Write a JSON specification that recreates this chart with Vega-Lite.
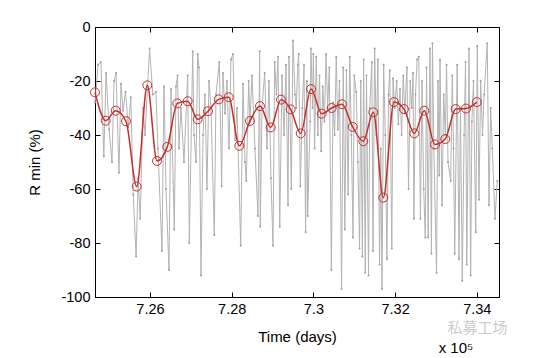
{
  "$schema": "https://vega.github.io/schema/vega-lite/v6.json",
  "width": 404,
  "height": 270,
  "autosize": {"type": "none"},
  "padding": {"left": 95, "top": 27, "right": 51, "bottom": 61},
  "background": "white",
  "config": {
    "view": {"stroke": "black", "strokeWidth": 1},
    "axis": {
      "domainColor": "black", "tickColor": "black", "labelColor": "black", "titleColor": "black",
      "labelFont": "Liberation Sans", "titleFont": "Liberation Sans",
      "labelFontSize": 14.5, "titleFontSize": 15, "titleFontWeight": "normal",
      "tickSize": -5, "grid": false
    }
  },
  "datasets": {
    "gray": [
      {"t":724654,"v":-28},{"t":724730,"v":-14},{"t":724800,"v":-13},{"t":724870,"v":-48},{"t":724925,"v":-17},
      {"t":725000,"v":-38},{"t":725070,"v":-50},{"t":725120,"v":-20},{"t":725170,"v":-17},{"t":725240,"v":-54},
      {"t":725290,"v":-21},{"t":725340,"v":-31},{"t":725400,"v":-24},{"t":725470,"v":-37},{"t":725530,"v":-26},
      {"t":725590,"v":-62},{"t":725660,"v":-85},{"t":725710,"v":-56},{"t":725760,"v":-71},{"t":725830,"v":-30},
      {"t":725880,"v":-40},{"t":725940,"v":-22},{"t":725990,"v":-8},{"t":726070,"v":-25},{"t":726145,"v":-24},
      {"t":726195,"v":-45},{"t":726294,"v":-83},{"t":726343,"v":-22},{"t":726392,"v":-60},{"t":726465,"v":-90},
      {"t":726514,"v":-23},{"t":726595,"v":-75},{"t":726637,"v":-22},{"t":726674,"v":-18},{"t":726710,"v":-45},
      {"t":726759,"v":-30},{"t":726833,"v":-50},{"t":726923,"v":-18},{"t":726963,"v":-80},{"t":727046,"v":-9},
      {"t":727078,"v":-40},{"t":727127,"v":-50},{"t":727168,"v":-10},{"t":727200,"v":-15},{"t":727249,"v":-92},
      {"t":727298,"v":-40},{"t":727346,"v":-25},{"t":727395,"v":-60},{"t":727444,"v":-20},{"t":727493,"v":-30},
      {"t":727575,"v":-77},{"t":727616,"v":-25},{"t":727697,"v":-13},{"t":727755,"v":-59},{"t":727787,"v":-17},
      {"t":727836,"v":-32},{"t":727885,"v":-20},{"t":727934,"v":-45},{"t":727983,"v":-12},{"t":728032,"v":-10},
      {"t":728081,"v":-42},{"t":728130,"v":-30},{"t":728221,"v":-81},{"t":728277,"v":-21},{"t":728326,"v":-50},
      {"t":728358,"v":-57},{"t":728417,"v":-20},{"t":728448,"v":-35},{"t":728497,"v":-18},{"t":728570,"v":-45},
      {"t":728644,"v":-70},{"t":728685,"v":-9},{"t":728700,"v":-74},{"t":728742,"v":-30},{"t":728808,"v":-17},
      {"t":728864,"v":-45},{"t":728913,"v":-20},{"t":728962,"v":-56},{"t":729011,"v":-81},{"t":729053,"v":-13},
      {"t":729097,"v":-25},{"t":729134,"v":-11},{"t":729176,"v":-74},{"t":729232,"v":-18},{"t":729281,"v":-40},
      {"t":729330,"v":-14},{"t":729379,"v":-66},{"t":729403,"v":-11},{"t":729460,"v":-60},{"t":729501,"v":-5},
      {"t":729550,"v":-25},{"t":729580,"v":-30},{"t":729620,"v":-14},{"t":729640,"v":-10},{"t":729680,"v":-59},
      {"t":729730,"v":-30},{"t":729770,"v":-14},{"t":729810,"v":-76},{"t":729840,"v":-20},{"t":729860,"v":-70},
      {"t":729920,"v":-35},{"t":729940,"v":-8},{"t":729980,"v":-30},{"t":730000,"v":-10},{"t":730030,"v":-45},
      {"t":730070,"v":-11},{"t":730110,"v":-40},{"t":730150,"v":-18},{"t":730190,"v":-46},{"t":730230,"v":-22},
      {"t":730270,"v":-35},{"t":730310,"v":-10},{"t":730350,"v":-30},{"t":730390,"v":-15},{"t":730440,"v":-90},
      {"t":730480,"v":-28},{"t":730520,"v":-40},{"t":730560,"v":-11},{"t":730600,"v":-38},{"t":730640,"v":-20},
      {"t":730690,"v":-97},{"t":730730,"v":-15},{"t":730770,"v":-75},{"t":730810,"v":-16},{"t":730850,"v":-62},
      {"t":730890,"v":-11},{"t":730930,"v":-40},{"t":730970,"v":-78},{"t":731000,"v":-18},{"t":731050,"v":-24},
      {"t":731090,"v":-50},{"t":731130,"v":-82},{"t":731160,"v":-20},{"t":731200,"v":-85},{"t":731230,"v":-12},
      {"t":731270,"v":-91},{"t":731300,"v":-18},{"t":731350,"v":-92},{"t":731380,"v":-30},{"t":731430,"v":-13},
      {"t":731460,"v":-83},{"t":731500,"v":-8},{"t":731540,"v":-40},{"t":731580,"v":-12},{"t":731620,"v":-88},
      {"t":731650,"v":-45},{"t":731680,"v":-97},{"t":731720,"v":-14},{"t":731760,"v":-40},{"t":731800,"v":-86},
      {"t":731840,"v":-25},{"t":731870,"v":-16},{"t":731920,"v":-82},{"t":731950,"v":-19},{"t":731990,"v":-30},
      {"t":732040,"v":-20},{"t":732080,"v":-36},{"t":732120,"v":-23},{"t":732160,"v":-40},{"t":732200,"v":-18},
      {"t":732240,"v":-32},{"t":732290,"v":-15},{"t":732330,"v":-60},{"t":732370,"v":-20},{"t":732410,"v":-30},
      {"t":732440,"v":-17},{"t":732460,"v":-71},{"t":732500,"v":-25},{"t":732540,"v":-12},{"t":732580,"v":-11},
      {"t":732620,"v":-71},{"t":732660,"v":-20},{"t":732700,"v":-60},{"t":732740,"v":-78},{"t":732770,"v":-15},
      {"t":732810,"v":-78},{"t":732855,"v":-8},{"t":732890,"v":-84},{"t":732915,"v":-6},{"t":732950,"v":-45},
      {"t":733015,"v":-91},{"t":733050,"v":-20},{"t":733080,"v":-55},{"t":733100,"v":-12},{"t":733150,"v":-66},
      {"t":733190,"v":-25},{"t":733230,"v":-40},{"t":733260,"v":-14},{"t":733296,"v":-50},{"t":733361,"v":-57},
      {"t":733400,"v":-18},{"t":733430,"v":-45},{"t":733460,"v":-84},{"t":733520,"v":-14},{"t":733565,"v":-86},
      {"t":733600,"v":-30},{"t":733645,"v":-94},{"t":733690,"v":-40},{"t":733725,"v":-13},{"t":733755,"v":-88},
      {"t":733810,"v":-8},{"t":733850,"v":-92},{"t":733880,"v":-35},{"t":733920,"v":-20},{"t":733975,"v":-76},
      {"t":734013,"v":-7},{"t":734054,"v":-64},{"t":734096,"v":-20},{"t":734140,"v":-40},{"t":734180,"v":-25},
      {"t":734257,"v":-6},{"t":734299,"v":-66},{"t":734340,"v":-30},{"t":734380,"v":-45},{"t":734446,"v":-71},
      {"t":734502,"v":-57}
    ],
    "red": [
      {"t":724654,"v":-24.2},{"t":724916,"v":-34.7},{"t":725161,"v":-31},{"t":725413,"v":-34.9},{"t":725675,"v":-59.1},
      {"t":725934,"v":-21.6},{"t":726172,"v":-49.6},{"t":726424,"v":-44.4},{"t":726669,"v":-28.3},{"t":726923,"v":-27.5},
      {"t":727168,"v":-34.2},{"t":727420,"v":-31.2},{"t":727682,"v":-26.8},{"t":727927,"v":-26},{"t":728187,"v":-44},
      {"t":728448,"v":-34.8},{"t":728693,"v":-29.3},{"t":728955,"v":-37.2},{"t":729207,"v":-26.9},{"t":729445,"v":-30.5},
      {"t":729690,"v":-39.4},{"t":729942,"v":-23},{"t":730204,"v":-32.1},{"t":730448,"v":-30},{"t":730700,"v":-28.6},
      {"t":730962,"v":-37},{"t":731222,"v":-42.3},{"t":731467,"v":-31.6},{"t":731712,"v":-63.2},{"t":731974,"v":-27.8},
      {"t":732219,"v":-30.4},{"t":732471,"v":-39.4},{"t":732715,"v":-31},{"t":732977,"v":-43.5},{"t":733229,"v":-41.5},
      {"t":733484,"v":-30.4},{"t":733736,"v":-30.2},{"t":734000,"v":-27.8}
    ],
    "notes": [
      {"t":734020,"v":-100,"label":"私募工场","kind":"mark"},
      {"t":733491,"v":-100,"label":"x 10⁵","kind":"exp"}
    ]
  },
  "layer": [
    {
      "data": {"name": "gray"},
      "mark": {"type": "line", "color": "#b3b3b3", "strokeWidth": 1, "point": {"filled": true, "size": 4, "color": "#a0a0a0"}},
      "encoding": {
        "x": {"field": "t", "type": "quantitative",
              "scale": {"domain": [724654, 734544], "nice": false, "zero": false},
              "axis": {"orient": "bottom", "values": [726000, 728000, 730000, 732000, 734000],
                       "labelExpr": "format(datum.value / 100000, '.2~f')",
                       "title": "Time (days)", "labelPadding": 10, "titlePadding": 14}},
        "y": {"field": "v", "type": "quantitative",
              "scale": {"domain": [-100, 0], "nice": false},
              "axis": {"orient": "left", "values": [-100, -80, -60, -40, -20, 0],
                       "labelExpr": "'' + datum.value", "title": "R min (%)",
                       "labelPadding": 10, "titlePadding": 18}}
      }
    },
    {
      "data": {"name": "red"},
      "mark": {"type": "line", "color": "#c4302c", "strokeWidth": 1.5, "interpolate": "monotone",
               "point": {"filled": false, "size": 80, "strokeWidth": 1, "color": "#c4302c"}},
      "encoding": {
        "x": {"field": "t", "type": "quantitative",
              "scale": {"domain": [724654, 734544], "nice": false, "zero": false},
              "axis": {"orient": "top", "values": [726000, 728000, 730000, 732000, 734000],
                       "labels": false, "title": null, "domain": false}},
        "y": {"field": "v", "type": "quantitative",
              "scale": {"domain": [-100, 0], "nice": false},
              "axis": {"orient": "right", "values": [-100, -80, -60, -40, -20, 0],
                       "labels": false, "title": null, "domain": false}}
      }
    },
    {
      "data": {"name": "notes"},
      "transform": [{"filter": "datum.kind === 'mark'"}],
      "mark": {"type": "text", "font": "Noto Sans CJK SC", "fontSize": 15, "color": "#cccccc", "align": "center", "baseline": "middle", "dy": 31},
      "encoding": {
        "x": {"field": "t", "type": "quantitative", "scale": {"domain": [724654, 734544], "nice": false, "zero": false}, "axis": null},
        "y": {"field": "v", "type": "quantitative", "scale": {"domain": [-100, 0], "nice": false}, "axis": null},
        "text": {"field": "label"}
      }
    },
    {
      "data": {"name": "notes"},
      "transform": [{"filter": "datum.kind === 'exp'"}],
      "mark": {"type": "text", "font": "Liberation Sans", "fontSize": 15, "color": "black", "align": "center", "baseline": "alphabetic", "dy": 56},
      "encoding": {
        "x": {"field": "t", "type": "quantitative", "scale": {"domain": [724654, 734544], "nice": false, "zero": false}, "axis": null},
        "y": {"field": "v", "type": "quantitative", "scale": {"domain": [-100, 0], "nice": false}, "axis": null},
        "text": {"field": "label"}
      }
    }
  ],
  "resolve": {"axis": {"x": "independent", "y": "independent"}}
}
